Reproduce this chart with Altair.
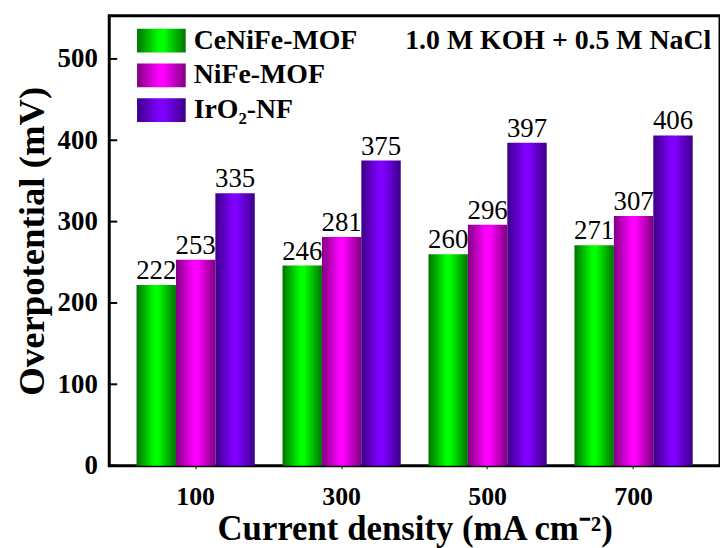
import altair as alt
import pandas as pd

densities = ["100", "300", "500", "700"]
series = ["CeNiFe-MOF", "NiFe-MOF", "IrO₂-NF"]
cenife = [222, 246, 260, 271]
nife = [253, 281, 296, 307]
iro2 = [335, 375, 397, 406]
y_ticks = [0, 100, 200, 300, 400, 500]
note = "1.0 M KOH + 0.5 M NaCl"

edge = {"CeNiFe-MOF": "#007400", "NiFe-MOF": "#800080", "IrO₂-NF": "#3c0088"}
mid = {"CeNiFe-MOF": "#00ff00", "NiFe-MOF": "#ff00ff", "IrO₂-NF": "#7f00ff"}

rows = []
for s, vals in zip(series, [cenife, nife, iro2]):
    for d, v in zip(densities, vals):
        rows.append({"density": d, "series": s, "value": v})
df = pd.DataFrame(rows)
leg_df = pd.DataFrame({"series": series})
tick_df = pd.DataFrame({"t": y_ticks})

FONT = "Liberation Serif"
W, H = 615, 453

xenc = alt.X("density:N", sort=densities,
             scale=alt.Scale(paddingInner=0.19, paddingOuter=0.187),
             axis=alt.Axis(title="Current density (mA cm⁻²)", labelAngle=0,
                           labelFont=FONT, labelFontSize=26, labelFontWeight="bold",
                           labelColor="black", labelPadding=15, tickSize=3,
                           tickColor="black", tickWidth=1, domain=False,
                           titleFont=FONT, titleFontSize=35, titleFontWeight="bold",
                           titleColor="black", titlePadding=2))
xoff = alt.XOffset("series:N", sort=series,
                   scale=alt.Scale(domain=series, paddingInner=0, paddingOuter=0))
yscale = alt.Scale(domain=[0, 553], nice=False, zero=True)
yenc = alt.Y("value:Q", scale=yscale,
             axis=alt.Axis(title="Overpotential (mV)", values=y_ticks, grid=False,
                           labelFont=FONT, labelFontSize=27, labelFontWeight="bold",
                           labelColor="black", labelPadding=12, tickSize=0,
                           domain=False,
                           titleFont=FONT, titleFontSize=37, titleFontWeight="bold",
                           titleColor="black", titlePadding=6))

base = alt.Chart(df)
layers = []
leg_y = [13, 48, 83]
for i, s in enumerate(series):
    grad = alt.Gradient(gradient="linear", x1=0, x2=1, y1=0, y2=0,
                        stops=[alt.GradientStop(color=edge[s], offset=0),
                               alt.GradientStop(color=mid[s], offset=0.45),
                               alt.GradientStop(color=mid[s], offset=0.55),
                               alt.GradientStop(color=edge[s], offset=1)])
    bars = base.transform_filter(alt.datum.series == s).mark_bar(
        color=grad).encode(
        x=xenc, xOffset=xoff, y=yenc if i == 0 else alt.Y("value:Q", scale=yscale))
    labels = base.transform_filter(alt.datum.series == s).mark_text(
        font=FONT, fontSize=27, baseline="bottom", dy=0, color="black").encode(
        x=alt.X("density:N", sort=densities), xOffset=xoff,
        y=alt.Y("value:Q", scale=yscale), text="value:Q")
    lrect = alt.Chart(leg_df).transform_filter(alt.datum.series == s).mark_rect(
        color=grad).encode(x=alt.value(28), x2=alt.value(77),
                           y=alt.value(leg_y[i]), y2=alt.value(leg_y[i] + 24))
    ltext = alt.Chart(leg_df).transform_filter(alt.datum.series == s).mark_text(
        font=FONT, fontSize=28, fontWeight="bold", align="left", baseline="middle",
        color="black").encode(x=alt.value(85), y=alt.value(leg_y[i] + 12),
                              text="series:N")
    layers += [bars, labels, lrect, ltext]

yticks = alt.Chart(tick_df).mark_rule(color="black", strokeWidth=2).encode(
    y=alt.Y("t:Q", scale=yscale), x=alt.value(0), x2=alt.value(8))
note_txt = alt.Chart(leg_df.head(1)).mark_text(
    font=FONT, fontSize=28, fontWeight="bold", align="left", baseline="alphabetic",
    color="black", text=note).encode(x=alt.value(298), y=alt.value(33))

chart = alt.layer(*layers, yticks, note_txt).properties(
    width=W, height=H,
    autosize=alt.AutoSizeParams(type="none"),
    padding={"left": 110, "top": 14, "right": 0, "bottom": 81},
    background="white",
).configure_view(stroke="black", strokeWidth=3)

chart.save("out.html", embed_options={"renderer": "svg", "actions": False})
